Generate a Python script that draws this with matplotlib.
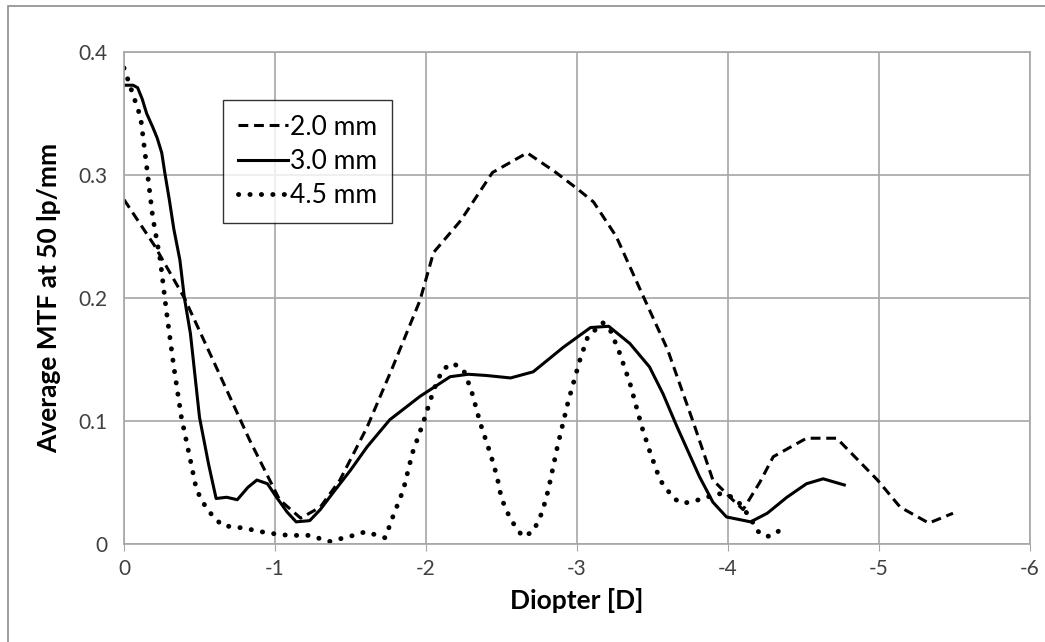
import matplotlib
matplotlib.use("Agg")
import matplotlib.pyplot as plt
from matplotlib.patches import Rectangle

plt.rcParams['font.family'] = ['Lato', 'DejaVu Sans']

# 2.0 mm pupil (dashed)
x_20 = [0, -0.2, -0.40, -0.61, -0.83, -1.03, -1.17, -1.30, -1.43, -1.61, -1.78, -1.96,
        -2.05, -2.23, -2.44, -2.67, -2.85, -3.0, -3.11, -3.26, -3.44, -3.60, -3.77, -3.90,
        -4.03, -4.10, -4.21, -4.30, -4.52, -4.72, -4.99, -5.14, -5.33, -5.49]
y_20 = [0.28, 0.243, 0.200, 0.144, 0.085, 0.036, 0.021, 0.030, 0.052, 0.095, 0.144, 0.198,
        0.237, 0.263, 0.302, 0.318, 0.303, 0.289, 0.278, 0.250, 0.201, 0.158, 0.099, 0.052,
        0.036, 0.028, 0.050, 0.071, 0.086, 0.086, 0.052, 0.030, 0.017, 0.025]

# 3.0 mm pupil (solid)
x_30 = [0, -0.06, -0.09, -0.12, -0.15, -0.19, -0.22, -0.25, -0.27, -0.30, -0.33, -0.37,
        -0.40, -0.44, -0.50, -0.56, -0.61, -0.68, -0.75, -0.82, -0.88, -0.95, -1.01,
        -1.08, -1.14, -1.23, -1.30, -1.38, -1.50, -1.61, -1.76, -1.96, -2.16, -2.28,
        -2.40, -2.56, -2.71, -2.91, -3.09, -3.21, -3.35, -3.48, -3.57, -3.66, -3.81,
        -3.90, -3.99, -4.15, -4.26, -4.39, -4.52, -4.63, -4.77]
y_30 = [0.373, 0.373, 0.371, 0.362, 0.350, 0.339, 0.330, 0.318, 0.302, 0.280, 0.256, 0.231,
        0.200, 0.171, 0.103, 0.065, 0.037, 0.038, 0.036, 0.046, 0.052, 0.049, 0.038,
        0.026, 0.018, 0.019, 0.028, 0.041, 0.060, 0.079, 0.101, 0.120, 0.136, 0.138,
        0.137, 0.135, 0.140, 0.160, 0.176, 0.177, 0.163, 0.144, 0.122, 0.096, 0.055,
        0.034, 0.022, 0.018, 0.025, 0.038, 0.049, 0.053, 0.048]

# 4.5 mm pupil (dotted)
x_45 = [0, -0.11, -0.15, -0.19, -0.24, -0.28, -0.33, -0.38, -0.44, -0.48, -0.55, -0.65,
        -0.79, -0.95, -1.09, -1.23, -1.36, -1.52, -1.60, -1.73, -1.78, -1.85, -1.91,
        -1.98, -2.05, -2.11, -2.18, -2.25, -2.30, -2.36, -2.43, -2.47, -2.50, -2.56,
        -2.64, -2.71, -2.77, -2.81, -2.87, -2.94, -3.02, -3.07, -3.17, -3.22, -3.28,
        -3.35, -3.43, -3.48, -3.55, -3.64, -3.70, -3.78, -3.86, -3.93, -4.0, -4.07,
        -4.15, -4.19, -4.25, -4.30, -4.36]
y_45 = [0.387, 0.347, 0.307, 0.266, 0.231, 0.190, 0.144, 0.103, 0.068, 0.044, 0.028, 0.015,
        0.013, 0.009, 0.007, 0.007, 0.002, 0.007, 0.010, 0.005, 0.022, 0.044, 0.074,
        0.098, 0.125, 0.142, 0.147, 0.141, 0.125, 0.098, 0.072, 0.055, 0.037, 0.020,
        0.006, 0.010, 0.026, 0.044, 0.079, 0.115, 0.150, 0.168, 0.180, 0.174, 0.156,
        0.131, 0.095, 0.076, 0.052, 0.037, 0.033, 0.035, 0.038, 0.041, 0.040, 0.034,
        0.021, 0.011, 0.006, 0.007, 0.013]

labels = ['2.0 mm', '3.0 mm', '4.5 mm']
x_ticks = [0, -1, -2, -3, -4, -5, -6]
y_ticks = [0, 0.1, 0.2, 0.3, 0.4]

fig = plt.figure(figsize=(10.45, 6.42), dpi=100)
# chart border
fig.patches.append(Rectangle((8 / 1045, -0.1), 1.2, 1 - 6 / 642 + 0.1,
                             transform=fig.transFigure, fill=False,
                             edgecolor='#8c8c8c', lw=1.2))
ax = fig.add_axes([124 / 1045, 1 - 544 / 642, 906 / 1045, 492 / 642])

ax.plot(x_20, y_20, color='black', lw=2.2, linestyle=(0, (3.2, 1.9)), label=labels[0])
ax.plot(x_30, y_30, color='black', lw=2.2, linestyle='-', label=labels[1])
ax.plot(x_45, y_45, color='black', lw=3.5, linestyle=(0, (0.05, 2.3)),
        dash_capstyle='round', label=labels[2])

ax.set_xlim(0, -6)
ax.set_ylim(0, 0.4)
ax.set_xticks(x_ticks)
ax.set_xticklabels(['0', '-1', '-2', '-3', '-4', '-5', '-6'])
ax.set_yticks(y_ticks)
ax.set_yticklabels(['0', '0.1', '0.2', '0.3', '0.4'])
ax.grid(True, color='#a6a6a6', lw=1.2)
ax.set_axisbelow(True)
for s in ax.spines.values():
    s.set_color('#a6a6a6')
    s.set_linewidth(1.2)
ax.tick_params(axis='x', length=5, color='#a6a6a6', labelsize=15, labelcolor='#404040', pad=6)
ax.tick_params(axis='y', length=0, labelsize=15, labelcolor='#404040', pad=12)

ax.set_xlabel('Diopter [D]', fontsize=19, fontweight='bold', labelpad=6)
ax.set_ylabel('Average MTF at 50 lp/mm', fontsize=19, fontweight='bold', labelpad=12)

leg = ax.legend(loc='upper left', bbox_to_anchor=(99 / 906, 1 - 48 / 492),
                fontsize=19, frameon=True, fancybox=False, edgecolor='black',
                handlelength=1.9, handletextpad=0.1, labelspacing=0.35,
                borderpad=0.55, borderaxespad=0)
leg.get_frame().set_linewidth(1.0)

fig.savefig('out.png', dpi=100)
